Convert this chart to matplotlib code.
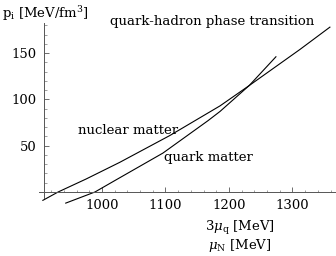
import matplotlib
matplotlib.use("Agg")
import matplotlib.pyplot as plt
from matplotlib.ticker import MultipleLocator

plt.rcParams['font.family'] = ['DejaVu Serif']
plt.rcParams['mathtext.fontset'] = 'dejavuserif'

# nuclear matter pressure vs baryon chemical potential
mu_nuclear = [907, 931, 975, 1028, 1107, 1186, 1230, 1312, 1359]
p_nuclear = [-9, 0, 14, 32, 61, 93, 114, 154, 178]

# quark matter pressure vs 3*mu_q
mu_quark = [943, 989, 1022, 1096, 1167, 1186, 1232, 1274]
p_quark = [-12, 0, 13, 42, 77, 87, 115, 146]

fig = plt.figure(figsize=(3.36, 2.56), dpi=100)
ax = fig.add_axes([0, 0, 1, 1])
ax.set_xlim(839.5, 1368.6)
ax.set_ylim(-69.1, 207.3)

ax.plot(mu_nuclear, p_nuclear, color='black', lw=0.8)
ax.plot(mu_quark, p_quark, color='black', lw=0.8)

for s in ['top', 'right']:
    ax.spines[s].set_visible(False)
ax.spines['left'].set_position(('data', 908))
ax.spines['bottom'].set_position(('data', 0))
ax.spines['left'].set_bounds(-6, 182)
ax.spines['bottom'].set_bounds(901, 1368.6)
for s in ['left', 'bottom']:
    ax.spines[s].set_color('#555555')
    ax.spines[s].set_linewidth(0.7)

ax.set_xticks([1000, 1100, 1200, 1300])
ax.set_yticks([50, 100, 150])
ax.tick_params(which='major', direction='in', length=3.5, width=0.6, color='#555555',
               labelsize=9.5, pad=5)
ax.tick_params(which='minor', direction='in', length=1.8, width=0.5, color='#777777')
ax.set_xticks([920, 940, 960, 980] + [x for x in range(1020, 1369, 20) if x % 100], minor=True)
ax.set_yticks([10, 20, 30, 40, 60, 70, 80, 90, 110, 120, 130, 140, 160, 170, 180], minor=True)


def px(x, y):
    return x / 336, 1 - y / 256


fig.text(*px(2, 14), r'p$_\mathregular{i}$ [MeV/fm$^3$]', fontsize=9.5, va='center', ha='left')
fig.text(*px(110, 22), 'quark-hadron phase transition', fontsize=9.5, va='center', ha='left')
fig.text(*px(78, 131), 'nuclear matter', fontsize=9.5, va='center', ha='left')
fig.text(*px(164, 157), 'quark matter', fontsize=9.5, va='center', ha='left')
fig.text(*px(240, 228), r'3$\mu_\mathregular{q}$ [MeV]', fontsize=9.5, va='center', ha='center')
fig.text(*px(240, 245), r'$\mu_\mathregular{N}$ [MeV]', fontsize=9.5, va='center', ha='center')

fig.savefig('out.png', dpi=100)
